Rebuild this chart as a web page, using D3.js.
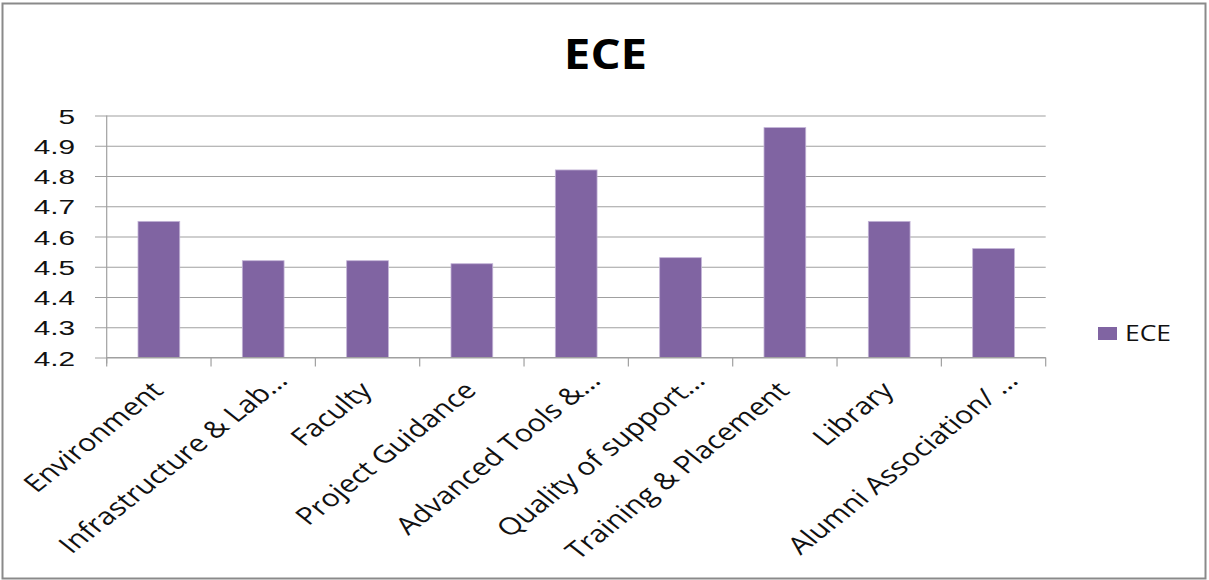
<!DOCTYPE html>
<html>
<head>
<meta charset="utf-8">
<script src="https://cdn.jsdelivr.net/npm/d3@7/dist/d3.min.js"></script>
<style>
  html, body { margin: 0; padding: 0; background: #fff; }
  svg { display: block; font-family: "Open Sans", "DejaVu Sans", sans-serif; }
</style>
</head>
<body>
<svg id="chart" width="1209" height="580"></svg>
<script>
// Survey scores for ECE, one bar per feedback area
const categories = [
  "Environment",
  "Infrastructure & Lab…",
  "Faculty",
  "Project Guidance",
  "Advanced Tools &…",
  "Quality of support…",
  "Training & Placement",
  "Library",
  "Alumni Association/ …"
];
const seriesName = "ECE";
const eceValues = [4.65, 4.52, 4.52, 4.51, 4.82, 4.53, 4.96, 4.65, 4.56];
const yTicks = [4.2, 4.3, 4.4, 4.5, 4.6, 4.7, 4.8, 4.9, 5];

const barColor = "#8064a2";
const gridColor = "#a0a0a0";

const svg = d3.select("#chart");

// outer chart frame
svg.append("rect")
  .attr("x", 2.5).attr("y", 3.5)
  .attr("width", 1203).attr("height", 575)
  .attr("fill", "#fff")
  .attr("stroke", "#8a8a8a")
  .attr("stroke-width", 2);

const plot = { left: 106.7, right: 1045.7, top: 115.5, bottom: 357.5 };

const x = d3.scaleBand()
  .domain(categories)
  .range([plot.left, plot.right])
  .paddingInner(0.6)
  .paddingOuter(0.3);

const y = d3.scaleLinear()
  .domain([4.2, 5])
  .range([plot.bottom, plot.top]);

// horizontal gridlines with short ticks left of the axis
const yAxis = d3.axisLeft(y)
  .tickValues(yTicks)
  .tickSize(-(plot.right - plot.left))
  .tickSizeOuter(0)
  .tickPadding(0)
  .tickFormat("");

const yg = svg.append("g")
  .attr("transform", `translate(${plot.left},0)`)
  .call(yAxis);
yg.select(".domain").remove();
yg.selectAll(".tick line")
  .attr("x1", -11.7)
  .attr("stroke", gridColor)
  .attr("stroke-width", 1.2);

// y tick labels, drawn wide like the rest of the chart text
yg.selectAll(".tick")
  .append("text")
  .attr("transform", "translate(-31.5,7.5) scale(1.42,1)")
  .attr("text-anchor", "end")
  .attr("fill", "#111")
  .style("font-size", "21px")
  .text(d => String(d));

// vertical axis line
svg.append("line")
  .attr("x1", plot.left).attr("x2", plot.left)
  .attr("y1", plot.top).attr("y2", plot.bottom + 6)
  .attr("stroke", gridColor)
  .attr("stroke-width", 1.2);

// bars
svg.append("g")
  .selectAll("rect")
  .data(eceValues)
  .join("rect")
  .attr("x", (d, i) => x(categories[i]))
  .attr("width", x.bandwidth())
  .attr("y", d => y(d))
  .attr("height", d => y(4.2) - y(d))
  .attr("fill", barColor)
  .attr("stroke", "#c2b3d6")
  .attr("stroke-width", 0.8);

// category axis with boundary ticks
const step = x.step();
const xg = svg.append("g");
xg.append("line")
  .attr("x1", plot.left).attr("x2", plot.right)
  .attr("y1", plot.bottom).attr("y2", plot.bottom)
  .attr("stroke", gridColor)
  .attr("stroke-width", 1.2);
xg.selectAll("line.tick")
  .data(d3.range(categories.length + 1))
  .join("line")
  .attr("class", "tick")
  .attr("x1", i => plot.left + i * step)
  .attr("x2", i => plot.left + i * step)
  .attr("y1", plot.bottom)
  .attr("y2", plot.bottom + 9)
  .attr("stroke", gridColor)
  .attr("stroke-width", 1.2);

// rotated category labels; shortened labels sit a little further along
xg.selectAll("text")
  .data(categories)
  .join("text")
  .attr("transform", d => {
    const cx = x(d) + x.bandwidth() / 2;
    const cut = d.endsWith("…");
    const ax = cx + (cut ? 26 : 6);
    const ay = cut ? 382 : 392;
    return `translate(${ax},${ay}) scale(1.26,1) rotate(-45)`;
  })
  .attr("text-anchor", "end")
  .attr("fill", "#111")
  .style("font-size", "24px")
  .text(d => d);

// title
svg.append("text")
  .attr("transform", "translate(605.5,69.3) scale(1.13,1)")
  .attr("text-anchor", "middle")
  .attr("fill", "#000")
  .style("font-size", "42px")
  .style("font-weight", "bold")
  .text(seriesName);

// legend
const lg = svg.append("g").attr("transform", "translate(1098,327)");
lg.append("rect")
  .attr("width", 19).attr("height", 13)
  .attr("fill", barColor);
lg.append("text")
  .attr("transform", "translate(27,14) scale(1.2,1)")
  .attr("fill", "#111")
  .style("font-size", "22px")
  .text(seriesName);
</script>
</body>
</html>
